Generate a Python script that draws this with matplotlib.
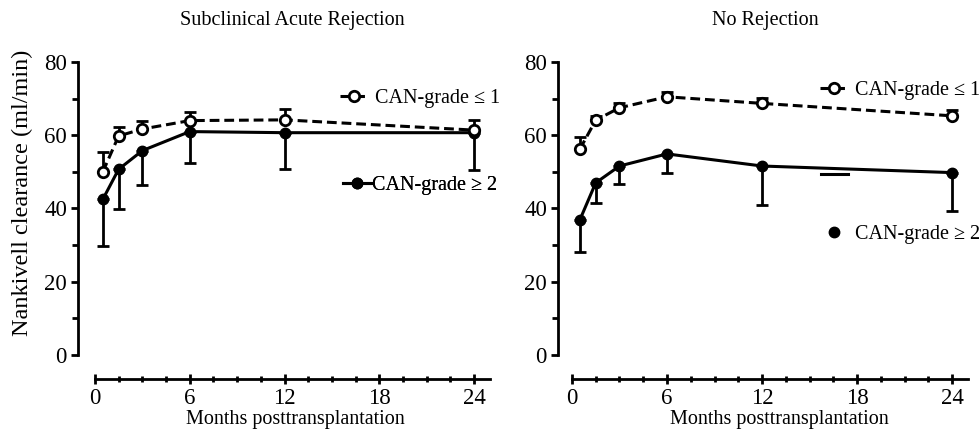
import numpy as np
import matplotlib.pyplot as plt
from matplotlib.lines import Line2D

plt.rcParams['font.family'] = ['Liberation Serif', 'DejaVu Serif']

# months posttransplantation
months = [0.5, 1.5, 3, 6, 12, 24]

# Subclinical acute rejection
sar_low = [50.0, 59.8, 61.7, 64.0, 64.2, 61.4]      # CAN-grade <= 1
sar_low_err = [5.5, 2.5, 2.3, 2.4, 3.1, 2.9]
sar_high = [42.5, 50.7, 55.8, 61.0, 60.7, 60.7]     # CAN-grade >= 2
sar_high_err = [12.7, 10.8, 9.4, 8.5, 10.0, 10.2]

# No rejection
nr_low = [56.2, 64.1, 67.5, 70.5, 68.7, 65.3]
nr_low_err = [3.4, 1.2, 1.4, 1.4, 1.4, 1.6]
nr_high = [36.9, 47.0, 51.6, 54.9, 51.6, 49.8]
nr_high_err = [8.7, 5.6, 4.9, 5.3, 10.6, 10.5]

# loose legend dash left over in the right panel of the original
stray_x = [15.7, 17.4]
stray_y = [49.4, 49.4]

titles = ['Subclinical Acute Rejection', 'No Rejection']
xticks = [0, 6, 12, 18, 24]
yticks = [0, 20, 40, 60, 80]

fig = plt.figure(figsize=(9.8, 4.36), dpi=100)
ax1 = fig.add_axes([78 / 980, 81 / 436, 412 / 980, 293 / 436])
ax2 = fig.add_axes([558 / 980, 81 / 436, 410 / 980, 293 / 436])

FS = 14.5
lw = 2.2


def panel(ax, low, low_err, high, high_err, xlo):
    z = np.zeros(len(months))
    ax.errorbar(months, high, yerr=[high_err, z], color='black', lw=lw,
                elinewidth=2, capsize=4, capthick=2, marker='o', ms=7.5,
                mfc='black', mec='black', clip_on=False, zorder=3)
    ax.errorbar(months, low, yerr=[z, low_err], color='black', lw=lw,
                ls=(0, (3.2, 1.6)), elinewidth=2, capsize=4, capthick=2,
                marker='o', ms=7.5, mfc='white', mec='black', mew=2,
                clip_on=False, zorder=4)
    ax.set_xlim(xlo, 25)
    ax.set_ylim(0, 80)
    for s in ['top', 'right']:
        ax.spines[s].set_visible(False)
    ax.spines['bottom'].set_position(('outward', 17))
    ax.spines['bottom'].set_bounds(0, 25)
    ax.spines['left'].set_bounds(0, 80)
    ax.spines['bottom'].set_linewidth(2)
    ax.spines['left'].set_linewidth(2)
    ax.set_xticks(xticks)
    ax.set_xticks(np.arange(0, 25.1, 1.5), minor=True)
    ax.set_yticks(yticks)
    ax.set_yticks(np.arange(0, 81, 10), minor=True)
    ax.tick_params(which='major', direction='out', length=5, width=2,
                   labelsize=16.5, pad=3)
    ax.tick_params(which='minor', direction='out', length=4, width=2)
    ax.tick_params(axis='x', which='major', direction='inout', length=7,
                   pad=3.5)
    ax.tick_params(axis='x', which='minor', direction='inout', length=5)
    ax.set_xlabel('Months posttransplantation', fontsize=FS, labelpad=2)


panel(ax1, sar_low, sar_low_err, sar_high, sar_high_err, -1.07)
panel(ax2, nr_low, nr_low_err, nr_high, nr_high_err, -0.88)

ax1.text(0.52, 1.14, titles[0], transform=ax1.transAxes, ha='center',
         va='center', fontsize=FS)
ax2.text(0.505, 1.14, titles[1], transform=ax2.transAxes, ha='center',
         va='center', fontsize=FS)
ax1.xaxis.set_label_coords(0.527, -0.187)
ax2.xaxis.set_label_coords(0.541, -0.187)

fig.text(22 / 980, 1 - 193 / 436, 'Nankivell clearance (ml/min)',
         rotation=90, ha='center', va='center', fontsize=17.5)

ax2.plot(stray_x, stray_y, color='black', lw=2.2, clip_on=False)

h_low = Line2D([], [], color='black', lw=lw, ls=(0, (3.2, 1.6)), marker='o',
               ms=7.5, mfc='white', mec='black', mew=2)
h_high = Line2D([], [], color='black', lw=lw, marker='o', ms=7.5,
                mfc='black', mec='black')
h_dot = Line2D([], [], color='black', lw=0, marker='o', ms=7.5,
               mfc='black', mec='black')

leg_kw = dict(frameon=False, loc='center left', fontsize=FS,
              borderpad=0, borderaxespad=0, handlelength=1.4,
              handletextpad=0.35, markerscale=1)

leg = ax1.legend([h_low], ['CAN-grade \u2264 1'],
                 bbox_to_anchor=(0.636, 0.874), **leg_kw)
ax1.add_artist(leg)
leg = ax1.legend([h_high], ['CAN-grade \u2265 2'],
                 bbox_to_anchor=(0.643, 0.58), **dict(leg_kw, handletextpad=0.05))
ax1.add_artist(leg)

leg = ax2.legend([h_low], ['CAN-grade \u2264 1'],
                 bbox_to_anchor=(0.639, 0.904), **leg_kw)
ax2.add_artist(leg)
leg = ax2.legend([h_dot], ['CAN-grade \u2265 2'],
                 bbox_to_anchor=(0.639, 0.41), **leg_kw)

fig.savefig('out.png', dpi=100)
